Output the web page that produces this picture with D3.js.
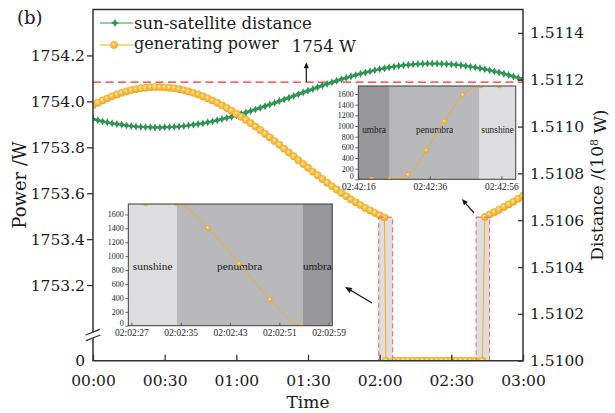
<!DOCTYPE html>
<html>
<head>
<meta charset="utf-8">
<script src="https://cdn.jsdelivr.net/npm/d3@7"></script>
<style>
  body { margin: 0; background: #fff; }
  svg { display: block; }
  text { font-family: "DejaVu Serif", serif; fill: #1a1a1a; }
  .inset text { font-family: "Liberation Serif", "Times New Roman", serif; }
</style>
</head>
<body>
<div id="chart"></div>
<script>
// main axes (time in minutes after 00:00)
const timeTicks = [0, 30, 60, 90, 120, 150, 180];
const timeTickLabels = ['00:00', '00:30', '01:00', '01:30', '02:00', '02:30', '03:00'];
const powerTicks = [0, 1753.2, 1753.4, 1753.6, 1753.8, 1754.0, 1754.2];
const distanceTicks = [1.5100, 1.5102, 1.5104, 1.5106, 1.5108, 1.5110, 1.5112, 1.5114];

// sun-satellite distance (as printed on the right axis)
const distanceTimes = [0, 2, 4, 6, 8, 10, 12, 14, 16, 18, 20, 22, 24, 26, 28, 30, 32, 34, 36, 38,
  40, 42, 44, 46, 48, 50, 52, 54, 56, 58, 60, 62, 64, 66, 68, 70, 72, 74, 76, 78,
  80, 82, 84, 86, 88, 90, 92, 94, 96, 98, 100, 102, 104, 106, 108, 110, 112, 114, 116, 118,
  120, 122, 124, 126, 128, 130, 132, 134, 136, 138, 140, 142, 144, 146, 148, 150, 152, 154, 156, 158,
  160, 162, 164, 166, 168, 170, 172, 174, 176, 178, 180];
const distanceValues = [1.511032, 1.511027, 1.511022, 1.511018, 1.511014, 1.511011, 1.511008, 1.511005, 1.511002, 1.511000,
  1.510999, 1.510998, 1.510997, 1.510996, 1.510996, 1.510997, 1.510998, 1.510999, 1.511000, 1.511002,
  1.511005, 1.511008, 1.511011, 1.511014, 1.511018, 1.511022, 1.511027, 1.511032, 1.511037, 1.511042,
  1.511048, 1.511054, 1.511060, 1.511067, 1.511073, 1.511080, 1.511087, 1.511094, 1.511101, 1.511109,
  1.511116, 1.511123, 1.511131, 1.511138, 1.511146, 1.511153, 1.511160, 1.511168, 1.511175, 1.511182,
  1.511189, 1.511196, 1.511202, 1.511208, 1.511214, 1.511220, 1.511226, 1.511231, 1.511236, 1.511241,
  1.511245, 1.511249, 1.511253, 1.511256, 1.511259, 1.511262, 1.511264, 1.511266, 1.511267, 1.511268,
  1.511269, 1.511269, 1.511269, 1.511268, 1.511267, 1.511266, 1.511264, 1.511262, 1.511259, 1.511256,
  1.511253, 1.511249, 1.511245, 1.511241, 1.511236, 1.511231, 1.511226, 1.511220, 1.511214, 1.511208,
  1.511202];

// generating power (W); drops to 0 during the eclipse
const powerTimes = [0, 2, 4, 6, 8, 10, 12, 14, 16, 18, 20, 22, 24, 26, 28, 30, 32, 34, 36, 38,
  40, 42, 44, 46, 48, 50, 52, 54, 56, 58, 60, 62, 64, 66, 68, 70, 72, 74, 76, 78,
  80, 82, 84, 86, 88, 90, 92, 94, 96, 98, 100, 102, 104, 106, 108, 110, 112, 114, 116, 118,
  120, 122, 122.6, 126, 128, 130, 132, 134, 136, 138, 140, 142, 144, 146, 148, 150, 152, 154, 156, 158,
  160, 163.0, 164, 166, 168, 170, 172, 174, 176, 178, 180];
const powerValues = [1753.983, 1753.994, 1754.004, 1754.013, 1754.022, 1754.030, 1754.037, 1754.043, 1754.049, 1754.053,
  1754.057, 1754.059, 1754.061, 1754.062, 1754.062, 1754.061, 1754.059, 1754.057, 1754.053, 1754.049,
  1754.043, 1754.037, 1754.030, 1754.022, 1754.013, 1754.004, 1753.994, 1753.983, 1753.971, 1753.959,
  1753.946, 1753.933, 1753.919, 1753.905, 1753.890, 1753.875, 1753.859, 1753.843, 1753.827, 1753.811,
  1753.794, 1753.777, 1753.761, 1753.744, 1753.727, 1753.711, 1753.694, 1753.678, 1753.662, 1753.646,
  1753.631, 1753.616, 1753.601, 1753.587, 1753.573, 1753.560, 1753.548, 1753.536, 1753.525, 1753.514,
  1753.504, 1753.495, 0, 0, 0, 0, 0, 0, 0, 0, 0, 0, 0, 0, 0, 0, 0, 0, 0, 0,
  0, 0, 1753.497, 1753.507, 1753.517, 1753.528, 1753.540, 1753.551, 1753.563, 1753.576,
  1753.589];

const thresholdPower = 1754.084;   // dashed "1754 W" line
const eclipseWindows = [[119.6, 125.4], [160.4, 166.0]];
const eclipseWindowTop = 1753.496;

// insets: time in seconds of the day
const insetPowerTicks = [0, 200, 400, 600, 800, 1000, 1200, 1400, 1600];
const entryTimes = [7349.3, 7354.4, 7359.4, 7364.5, 7369.5, 7374.6, 7379.6];
const entryPower = [1754, 1754, 1404, 894, 378, 0, 0];
const entryTicks = [7347, 7355, 7363, 7371, 7379];
const entryPhases = ['sunshine', 'penumbra', 'umbra'];
const entryPhaseEdges = [7346.5, 7354.4, 7374.75, 7379.6];

const exitTimes = [9739.7, 9744.8, 9749.9, 9755.0, 9760.1, 9765.2, 9770.3, 9775.4];
const exitPower = [0, 0, 86, 544, 1088, 1581, 1754, 1754];
const exitTicks = [9736, 9756, 9776];
const exitPhases = ['umbra', 'penumbra', 'sunshine'];
const exitPhaseEdges = [9736, 9744.8, 9769.9, 9780];

const phaseColor = { umbra: '#98989c', penumbra: '#b9b9bc', sunshine: '#dddddf' };
const GREEN = '#2f9552';
const ORANGE = '#f0ad2a';

// ---------------------------------------------------------------------------
const W = 615, H = 413;
const margin = { top: 9.5, right: 92, bottom: 52.3, left: 93 };
const width = W - margin.left - margin.right;
const height = H - margin.top - margin.bottom;

const svg = d3.select('#chart').append('svg').attr('width', W).attr('height', H);
const defs = svg.append('defs');
const grad = defs.append('radialGradient').attr('id', 'ball')
  .attr('cx', '42%').attr('cy', '40%').attr('r', '62%');
grad.append('stop').attr('offset', '0%').attr('stop-color', '#fff6dc');
grad.append('stop').attr('offset', '28%').attr('stop-color', '#fbcc5e');
grad.append('stop').attr('offset', '100%').attr('stop-color', '#eda31c');

// 4-point star used for the distance markers
const star = 'M0,-4L1.4,-1.4L4,0L1.4,1.4L0,4L-1.4,1.4L-4,0L-1.4,-1.4Z';

const g = svg.append('g').attr('transform', `translate(${margin.left},${margin.top})`);

// scales: left axis is broken between 0 and 1753.0
const x = d3.scaleLinear().domain([0, 180]).range([0, width]);
const yP = d3.scaleLinear().domain([0, 1753.0, 1754.4]).range([height, height - 29.7, 0]);
const yD = d3.scaleLinear().domain([1.5100, 1.5115]).range([height, 0]);

defs.append('clipPath').attr('id', 'plotClip')
  .append('rect').attr('width', width).attr('height', height);
const plot = g.append('g').attr('clip-path', 'url(#plotClip)');

// eclipse windows
plot.selectAll('.win').data(eclipseWindows).enter().append('rect')
  .attr('x', d => x(d[0])).attr('width', d => x(d[1]) - x(d[0]))
  .attr('y', yP(eclipseWindowTop)).attr('height', height - yP(eclipseWindowTop))
  .attr('fill', '#dedede');

// threshold line
plot.append('line')
  .attr('x1', 0).attr('x2', width)
  .attr('y1', yP(thresholdPower)).attr('y2', yP(thresholdPower))
  .attr('stroke', '#ff2a2a').attr('stroke-width', 1.2).attr('stroke-dasharray', '8,4.5');

// distance series
const distData = distanceTimes.map((t, i) => ({ t, v: distanceValues[i] }));
plot.append('path').datum(distData)
  .attr('d', d3.line().x(d => x(d.t)).y(d => yD(d.v)))
  .attr('fill', 'none').attr('stroke', GREEN).attr('stroke-width', 1);
plot.selectAll('.dist').data(distData).enter().append('path')
  .attr('transform', d => `translate(${x(d.t)},${yD(d.v)})`)
  .attr('d', star)
  .attr('fill', GREEN);

// power series
const powData = powerTimes.map((t, i) => ({ t, v: powerValues[i] }));
plot.append('path').datum(powData)
  .attr('d', d3.line().x(d => x(d.t)).y(d => yP(d.v)))
  .attr('fill', 'none').attr('stroke', ORANGE).attr('stroke-width', 1);
plot.selectAll('.pow').data(powData).enter().append('circle')
  .attr('cx', d => x(d.t)).attr('cy', d => yP(d.v)).attr('r', 3.7)
  .attr('fill', 'url(#ball)').attr('stroke', '#eaa322').attr('stroke-width', 0.4);

// eclipse window borders
plot.selectAll('.winb').data(eclipseWindows).enter().append('rect')
  .attr('x', d => x(d[0])).attr('width', d => x(d[1]) - x(d[0]))
  .attr('y', yP(eclipseWindowTop)).attr('height', height - yP(eclipseWindowTop))
  .attr('fill', 'none').attr('stroke', '#f27272').attr('stroke-width', 1.2)
  .attr('stroke-dasharray', '5,3');

// axes
const fontSize = '15.5px';
const axL = g.append('g')
  .call(d3.axisLeft(yP).tickValues(powerTicks).tickSizeInner(6).tickSizeOuter(0).tickPadding(2)
    .tickFormat(d => d === 0 ? '0' : d3.format('.1f')(d)));
const axB = g.append('g').attr('transform', `translate(0,${height})`)
  .call(d3.axisBottom(x).tickValues(timeTicks).tickSizeInner(-6).tickSizeOuter(0).tickPadding(14)
    .tickFormat((d, i) => timeTickLabels[i]));
const axR = g.append('g').attr('transform', `translate(${width},0)`)
  .call(d3.axisRight(yD).tickValues(distanceTicks).tickSizeInner(-5).tickSizeOuter(0).tickPadding(7)
    .tickFormat(d3.format('.4f')));
[axL, axB, axR].forEach(a => {
  a.select('.domain').remove();
  a.selectAll('line').attr('stroke', '#333').attr('stroke-width', 1.3);
  a.selectAll('text').style('font-family', '"DejaVu Serif", serif').style('font-size', fontSize).attr('fill', '#1a1a1a');
});
axL.selectAll('.tick').filter(d => d === 0).select('line').remove();

// frame with axis break on the left
const frame = g.append('g').attr('stroke', '#333').attr('stroke-width', 1.5).attr('fill', 'none');
frame.append('path').attr('d', `M0,323 V0 H${width} V${height} H0 V328.5`);
frame.append('line').attr('x1', -7.5).attr('y1', 325.5).attr('x2', 7).attr('y2', 319.8).attr('stroke-width', 1.3);
frame.append('line').attr('x1', -7).attr('y1', 331.2).attr('x2', 7.5).attr('y2', 325.5).attr('stroke-width', 1.3);

// arrow helper
function arrow(parent, x1, y1, x2, y2, head = 6) {
  const a = Math.atan2(y2 - y1, x2 - x1);
  const bx = x2 - head * Math.cos(a), by = y2 - head * Math.sin(a);
  const w = head * 0.42;
  parent.append('line').attr('x1', x1).attr('y1', y1).attr('x2', bx).attr('y2', by)
    .attr('stroke', '#111').attr('stroke-width', 1.2);
  parent.append('path')
    .attr('d', `M${x2},${y2}L${bx + w * Math.sin(a)},${by - w * Math.cos(a)}L${bx - w * Math.sin(a)},${by + w * Math.cos(a)}Z`)
    .attr('fill', '#111');
}

// threshold annotation
arrow(g, x(89.3), yP(thresholdPower), x(89.3), yP(1754.17), 6);
g.append('text').attr('x', x(83.2)).attr('y', yP(1754.215)).style('font-size', '16.5px').text('1754 W');

// legend
const legend = g.append('g').attr('transform', 'translate(7,13.5)');
legend.append('line').attr('x1', 0).attr('x2', 33).attr('stroke', GREEN).attr('stroke-width', 1);
legend.append('path').attr('transform', 'translate(15,0)').attr('d', star).attr('fill', GREEN);
legend.append('text').attr('x', 34).attr('y', 6).style('font-size', '16.5px').text('sun-satellite distance');
legend.append('line').attr('x1', 0).attr('x2', 33).attr('y1', 22).attr('y2', 22).attr('stroke', ORANGE).attr('stroke-width', 1);
legend.append('circle').attr('cx', 14).attr('cy', 22).attr('r', 3.7).attr('fill', 'url(#ball)').attr('stroke', '#eaa322').attr('stroke-width', 0.4);
legend.append('text').attr('x', 34).attr('y', 26).style('font-size', '16px').text('generating power');

// titles
svg.append('text').attr('x', 17).attr('y', 24).style('font-size', '18px').text('(b)');
svg.append('text').attr('x', margin.left + width / 2).attr('y', 408).attr('text-anchor', 'middle')
  .style('font-size', '17px').text('Time');
svg.append('text').attr('transform', `translate(20,${margin.top + height / 2}) rotate(-90)`)
  .attr('text-anchor', 'middle').attr('dy', '0.35em').style('font-size', '18px').text('Power /W');
const rt = svg.append('text').attr('transform', `translate(597,${margin.top + height / 2}) rotate(-90)`)
  .attr('text-anchor', 'middle').attr('dy', '0.35em').style('font-size', '17px');
rt.append('tspan').text('Distance /(10');
rt.append('tspan').attr('dy', '-0.45em').style('font-size', '11px').text('8');
rt.append('tspan').attr('dy', '0.45em').text(' W)');

// ---------------------------------------------------------------------------
// insets
function hms(s) {
  const h = Math.floor(s / 3600), m = Math.floor((s % 3600) / 60), sec = Math.round(s % 60);
  return [h, m, sec].map(v => String(v).padStart(2, '0')).join(':');
}

function drawInset(id, box, times, power, ticks, phases, edges, labelSize, labelY) {
  const ig = svg.append('g').attr('class', 'inset').attr('transform', `translate(${box.x},${box.y})`);
  const ix = d3.scaleLinear().domain([edges[0], edges[edges.length - 1]]).range([0, box.w]);
  const iy = d3.scaleLinear().domain([0, 1750]).range([box.h, 0]);
  defs.append('clipPath').attr('id', id).append('rect').attr('width', box.w).attr('height', box.h);
  const body = ig.append('g').attr('clip-path', `url(#${id})`);

  body.selectAll('.ph').data(phases).enter().append('rect')
    .attr('x', (d, i) => ix(edges[i])).attr('width', (d, i) => ix(edges[i + 1]) - ix(edges[i]))
    .attr('y', 0).attr('height', box.h).attr('fill', d => phaseColor[d]);
  body.selectAll('.phl').data(phases).enter().append('text')
    .attr('x', (d, i) => (ix(edges[i]) + ix(edges[i + 1])) / 2).attr('y', box.h * labelY)
    .attr('text-anchor', 'middle').style('font-size', labelSize + 'px').text(d => d);

  const pts = times.map((t, i) => ({ t, v: power[i] }));
  body.append('path').datum(pts)
    .attr('d', d3.line().curve(d3.curveMonotoneX).x(d => ix(d.t)).y(d => iy(d.v)))
    .attr('fill', 'none').attr('stroke', ORANGE).attr('stroke-width', 1);
  body.selectAll('.pt').data(pts).enter().append('circle')
    .attr('cx', d => ix(d.t)).attr('cy', d => iy(d.v)).attr('r', 2.3)
    .attr('fill', 'url(#ball)').attr('stroke', '#e9a020').attr('stroke-width', 0.3);

  const al = ig.append('g').call(d3.axisLeft(iy).tickValues(insetPowerTicks).tickSizeInner(3).tickSizeOuter(0)
    .tickPadding(1.5).tickFormat(d3.format('d')));
  const ab = ig.append('g').attr('transform', `translate(0,${box.h})`)
    .call(d3.axisBottom(ix).tickValues(ticks).tickSizeInner(-3).tickSizeOuter(0).tickPadding(4).tickFormat(hms));
  [al, ab].forEach(a => {
    a.select('.domain').remove();
    a.selectAll('line').attr('stroke', '#444').attr('stroke-width', 0.8);
    a.selectAll('text').attr('fill', '#222');
  });
  al.selectAll('text').style('font-size', '8px');
  al.selectAll('.tick').filter(d => d === 0).select('text').attr('dy', '-0.05em');
  ab.selectAll('text').style('font-size', '9.5px');
  ig.append('rect').attr('width', box.w).attr('height', box.h)
    .attr('fill', 'none').attr('stroke', '#3a3a3a').attr('stroke-width', 1);
}

drawInset('clipExit', { x: 358.3, y: 86, w: 157.4, h: 93.3 }, exitTimes, exitPower, exitTicks,
  exitPhases, exitPhaseEdges, 9.3, 0.505);
drawInset('clipEntry', { x: 128.3, y: 204, w: 204, h: 121.7 }, entryTimes, entryPower, entryTicks,
  entryPhases, entryPhaseEdges, 11.3, 0.54);

// pointers from the eclipse windows to the insets
arrow(svg, 474, 213, 462, 199, 6);
arrow(svg, 372, 303, 345, 287, 7);
</script>
</body>
</html>
